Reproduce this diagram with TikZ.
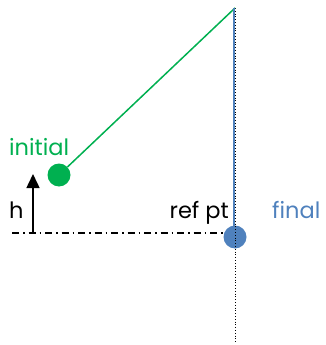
\documentclass[tikz,border=0pt]{standalone}
\usepackage{fontspec}
\setmainfont{Poppins}
\usepackage{tikz}
\usetikzlibrary{positioning,arrows.meta}
\definecolor{pendgreen}{RGB}{0,176,80}
\definecolor{pendblue}{RGB}{79,129,189}
\tikzset{every node/.style={font=\fontsize{22.5}{26}\selectfont}}

\begin{document}
\begin{tikzpicture}[
  x=1pt, y=-1pt,
  ball/.style={circle, inner sep=0pt, minimum size=23pt},
  lbl/.style={inner sep=0pt}
]
\useasboundingbox (0,0) rectangle (325,345);

\coordinate (pivot) at (235,8);
\coordinate (bottom) at (235,343);
\coordinate (left) at (12,233);
\coordinate (hbase) at (33,233);
\coordinate (htop) at (33,174);

\node (initial) [ball, fill=pendgreen] at (59,175) {};
\node (final) [ball, fill=pendblue] at (235,237) {};

\draw[dotted, thick] (pivot) -- (bottom);
\draw[pendgreen, line width=1.5pt] (pivot) -- (initial);
\draw[pendblue, line width=1.8pt] ([xshift=-1pt]pivot) -- ([xshift=-1pt]final.center);
\draw[dash pattern=on 7pt off 4pt on 1.5pt off 4pt, line width=1.2pt] (left) -- (left -| final.west);
\draw[-{Triangle[length=14pt,width=13pt]}, line width=1.5pt] (hbase) -- (htop);

\node (initlbl) [lbl, text=pendgreen, anchor=base west] at (9,155) {initial};
\node (hlbl) [lbl, anchor=base west] at (9,218) {h};
\node (reflbl) [lbl, anchor=base east] at (229,218) {ref pt};
\node (finlbl) [lbl, text=pendblue, anchor=base west] at (272,218) {final};

\end{tikzpicture}
\end{document}
